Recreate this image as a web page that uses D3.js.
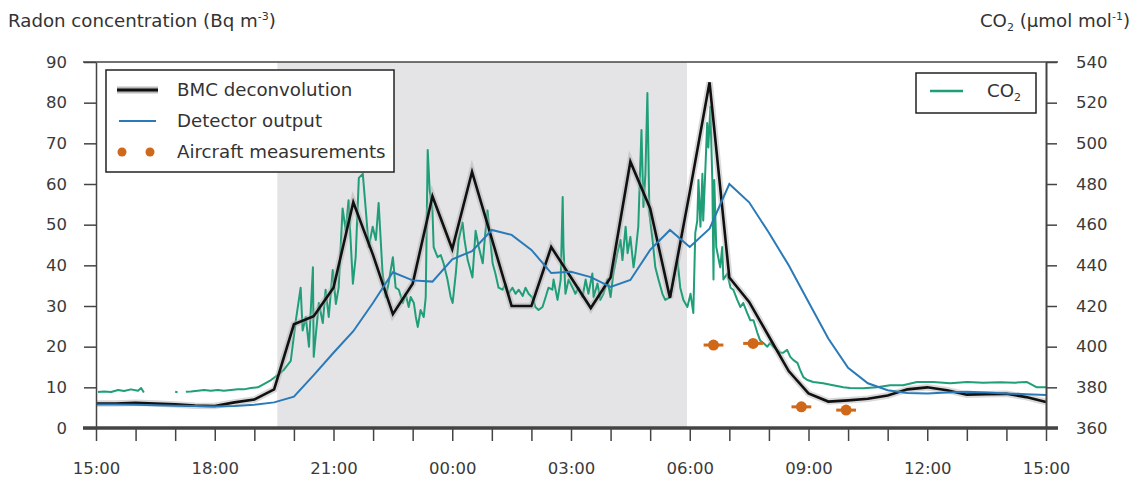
<!DOCTYPE html>
<html lang="en">
<head>
<meta charset="UTF-8">
<title>Radon and CO2</title>
<script src="https://d3js.org/d3.v7.min.js"></script>
<style>
  body { margin: 0; background: #fff; }
  svg { font-family: "DejaVu Sans", sans-serif; }
  .axis text { fill: #3a3a3a; font-size: 16.5px; font-family: "DejaVu Sans", sans-serif; }
  .axis line, .axis path { stroke: #444; }
  .label { fill: #333; font-size: 18.2px; }
</style>
</head>
<body>
<svg width="1138" height="480"></svg>
<script>
// hours after 15:00 on day one
const halfHours = [0, 0.5, 1, 1.5, 2, 2.5, 3, 3.5, 4, 4.5, 5, 5.5, 6, 6.5, 7, 7.5, 8, 8.5, 9, 9.5,
  10, 10.5, 11, 11.5, 12, 12.5, 13, 13.5, 14, 14.5, 15, 15.5, 16, 16.5, 17, 17.5, 18, 18.5, 19, 19.5,
  20, 20.5, 21, 21.5, 22, 22.5, 23, 23.5, 24];

const bmcRadon = [6.0, 6.0, 6.2, 6.0, 5.8, 5.5, 5.4, 6.3, 7.0, 9.5,
  25.5, 27.5, 34.5, 55.5, 42.5, 28.0, 35.5, 57.0, 44.0, 63.0,
  46.5, 30.0, 30.0, 44.5, 37.0, 29.5, 37.0, 65.5, 54.0, 32.0,
  58.0, 85.0, 37.0, 31.0, 22.5, 14.0, 8.5, 6.5, 6.8, 7.2,
  8.0, 9.5, 10.0, 9.3, 8.2, 8.3, 8.4, 7.6, 6.4];

const detectorRadon = [5.8, 5.8, 5.7, 5.6, 5.5, 5.4, 5.3, 5.4, 5.7, 6.3,
  7.7, 13.0, 18.5, 23.8, 30.8, 38.3, 36.3, 36.0, 41.5, 43.5,
  48.7, 47.5, 43.8, 38.1, 38.4, 37.1, 34.7, 36.4, 43.8, 48.7,
  44.5, 49.0, 60.0, 55.5, 48.0, 40.0, 31.0, 22.0, 14.8, 11.0,
  9.3, 8.6, 8.5, 8.7, 8.9, 8.7, 8.5, 8.3, 8.1];

// CO2 record, null marks the data gaps
const co2Hours = [0.05, 0.20, 0.38, 0.56, 0.71, 0.88, 1.06, 1.14, 1.21, 1.30,
  2.00, 2.06, 2.10,
  2.27, 2.40, 2.57, 2.73, 2.90, 3.08, 3.23, 3.41, 3.58, 3.74, 3.91, 4.09, 4.24, 4.42, 4.59, 4.74, 4.92,
  5.05, 5.17, 5.22, 5.30, 5.38, 5.48, 5.50, 5.63, 5.73, 5.80, 5.88, 5.98, 6.06, 6.13, 6.23, 6.31, 6.38,
  6.49, 6.56, 6.64, 6.74, 6.81, 6.89, 6.99, 7.07, 7.14, 7.24, 7.32, 7.39, 7.50, 7.57, 7.65, 7.75, 7.82,
  7.90, 7.95, 8.03, 8.08, 8.13, 8.20, 8.28, 8.33, 8.38, 8.43, 8.50, 8.53, 8.63, 8.71, 8.78, 8.88, 8.96,
  9.01, 9.09, 9.16, 9.26, 9.31, 9.39, 9.46, 9.51, 9.59, 9.67, 9.77, 9.82, 9.89, 9.94, 10.02, 10.09, 10.17,
  10.27, 10.35, 10.42, 10.52, 10.60, 10.68, 10.78, 10.85, 10.93, 11.03, 11.10, 11.18, 11.28, 11.36, 11.43,
  11.53, 11.56, 11.66, 11.74, 11.79, 11.81, 11.86, 11.94, 12.04, 12.11, 12.19, 12.29, 12.37, 12.44, 12.54,
  12.57, 12.67, 12.74, 12.82, 12.92, 13.00, 13.07, 13.17, 13.25, 13.30, 13.38, 13.43, 13.50, 13.58, 13.63,
  13.70, 13.78, 13.83, 13.88, 13.93, 13.98, 14.06, 14.13, 14.21, 14.31, 14.38, 14.51, 14.59, 14.69, 14.76,
  14.84, 14.94, 15.02, 15.09, 15.14, 15.19, 15.22, 15.27, 15.32, 15.34, 15.39, 15.44, 15.47, 15.52, 15.57,
  15.60, 15.62, 15.67, 15.72, 15.77, 15.82, 15.85, 15.95, 16.03, 16.10, 16.20, 16.28, 16.35, 16.45, 16.53,
  16.61, 16.71, 16.78, 16.86, 16.96, 17.03, 17.11, 17.21, 17.29, 17.36, 17.46, 17.54, 17.62, 17.72, 17.79,
  17.87, 17.97, 18.12, 18.37, 18.62, 18.88, 19.05, 19.38, 19.73, 20.06, 20.39, 20.74, 21.15, 21.58, 22.01,
  22.41, 22.84, 23.22, 23.52, 23.77, 24.00];

const co2Values = [377.7, 378.0, 377.7, 378.7, 378.2, 379.0, 378.3, 379.7, 377.5, null,
  377.8, 377.6, null,
  377.8, 377.9, 378.3, 378.7, 378.3, 378.7, 378.3, 378.7, 379.0, 379.0, 379.7, 380.0, 381.6, 383.6, 386.0, 388.5, 393.0,
  413.0, 429.0, 408.0, 414.6, 400.0, 439.0, 395.0, 421.5, 411.6, 428.0, 414.6, 437.7, 421.0, 429.0, 468.0, 457.0, 472.0,
  431.0, 444.0, 483.0, 485.0, 468.7, 449.0, 459.0, 452.5, 470.7, 436.0, 424.4, 431.0, 444.0, 429.0, 428.0, 421.5, 426.0,
  419.5, 424.4, 421.5, 414.6, 409.7, 418.0, 414.6, 424.4, 496.7, 477.0, 467.0, 449.0, 444.0, 445.0, 441.0, 433.0, 424.4,
  421.5, 436.0, 452.5, 461.0, 452.5, 442.6, 437.7, 434.0, 457.0, 449.0, 441.0, 452.5, 467.0, 457.0, 441.0, 436.0, 429.0,
  428.0, 431.0, 426.0, 429.0, 426.0, 428.0, 425.0, 429.0, 426.0, 424.0, 419.5, 418.0, 419.5, 424.4, 429.0,
  428.0, 433.0, 423.0, 433.0, 473.6, 449.0, 426.0, 433.0, 429.0, 426.0, 429.0, 424.4, 433.0, 426.0, 436.0,
  424.4, 431.0, 423.0, 426.0, 433.0, 424.4, 436.0, 446.0, 452.5, 442.6, 459.0, 446.0, 454.0, 439.0, 446.0,
  459.0, 506.6, 468.7, 485.0, 524.8, 465.7, 452.5, 439.0, 433.0, 426.0, 423.0, 424.4, 433.0, 442.6, 429.0,
  423.0, 419.5, 426.0, 416.6, 456.0, 462.0, 482.0, 459.0, 485.0, 462.0, 485.0, 510.0, 498.0, 518.0, 482.0,
  433.0, 482.0, 449.0, 444.0, 439.0, 449.0, 433.0, 436.0, 429.0, 428.0, 423.0, 419.5, 421.5, 416.6, 413.0,
  413.0, 406.7, 403.0, 401.8, 400.0, 401.8, 400.0, 398.4, 397.0, 397.0, 398.4, 395.0, 393.4, 392.0, 388.5,
  385.0, 383.6, 382.6, 382.0, 381.0, 380.0, 379.7, 379.5, 380.0, 381.0, 381.0, 382.6, 382.6, 382.0, 382.6,
  382.2, 382.5, 382.3, 382.6, 380.0, 380.0];

const aircraftHours = [15.60, 16.60, 17.82, 18.95];
const aircraftRadon = [20.4, 20.8, 5.2, 4.4];
const aircraftHalfWidth = 0.25;

const nightStart = 4.58, nightEnd = 14.93;
const radonTicks = [0, 10, 20, 30, 40, 50, 60, 70, 80, 90];
const co2Ticks = [360, 380, 400, 420, 440, 460, 480, 500, 520, 540];

const GREEN = "#1f9e78", BLUE = "#2a7ab8", ORANGE = "#d0681a";

const base = new Date(2000, 0, 1, 15, 0);
const toDate = h => new Date(base.getTime() + h * 3600e3);

const svg = d3.select("svg");
const pLeft = 96, pRight = 1046, pTop = 62, pBottom = 428;

const x = d3.scaleTime().domain([base, toDate(24)]).range([pLeft, pRight]);
const yL = d3.scaleLinear().domain([0, 90]).range([pBottom, pTop]);
const yR = d3.scaleLinear().domain([360, 540]).range([pBottom, pTop]);

// night shading
svg.append("rect")
  .attr("x", x(toDate(nightStart))).attr("y", pTop)
  .attr("width", x(toDate(nightEnd)) - x(toDate(nightStart)))
  .attr("height", pBottom - pTop)
  .attr("fill", "#e4e4e7");

const bmc = halfHours.map((h, i) => ({t: toDate(h), v: bmcRadon[i]}));
const det = halfHours.map((h, i) => ({t: toDate(h), v: detectorRadon[i]}));
const co2 = co2Hours.map((h, i) => ({t: toDate(h), v: co2Values[i]}));

const lineL = d3.line().x(d => x(d.t)).y(d => yL(d.v));
const lineR = d3.line().defined(d => d.v !== null).x(d => x(d.t)).y(d => yR(d.v));

svg.append("path").datum(co2).attr("d", lineR)
  .attr("fill", "none").attr("stroke", GREEN).attr("stroke-width", 2).attr("stroke-linejoin", "round");

svg.append("path").datum(bmc).attr("d", lineL)
  .attr("fill", "none").attr("stroke", "#aaa").attr("stroke-opacity", 0.45).attr("stroke-width", 6.5);
svg.append("path").datum(bmc).attr("d", lineL)
  .attr("fill", "none").attr("stroke", "#111").attr("stroke-width", 2.6);

svg.append("path").datum(det).attr("d", lineL)
  .attr("fill", "none").attr("stroke", BLUE).attr("stroke-width", 2);

// aircraft points with time error bars
const ac = svg.append("g");
aircraftHours.forEach((h, i) => {
  ac.append("line")
    .attr("x1", x(toDate(h - aircraftHalfWidth))).attr("x2", x(toDate(h + aircraftHalfWidth)))
    .attr("y1", yL(aircraftRadon[i])).attr("y2", yL(aircraftRadon[i]))
    .attr("stroke", ORANGE).attr("stroke-width", 3);
  ac.append("circle")
    .attr("cx", x(toDate(h))).attr("cy", yL(aircraftRadon[i])).attr("r", 5.5)
    .attr("fill", ORANGE);
});

// axes
const gl = svg.append("g").attr("class", "axis").attr("transform", `translate(${pLeft},0)`)
  .call(d3.axisLeft(yL).tickValues(radonTicks).tickSize(12).tickSizeOuter(0).tickPadding(17));
gl.select(".domain").attr("stroke-width", 1.5);
gl.selectAll(".tick line").attr("stroke-width", 1.5);

const gr = svg.append("g").attr("class", "axis").attr("transform", `translate(${pRight},0)`)
  .call(d3.axisRight(yR).tickValues(co2Ticks).tickSize(11).tickSizeOuter(0).tickPadding(19));
gr.select(".domain").attr("stroke-width", 2);
gr.selectAll(".tick line").attr("stroke-width", 1.5);

const fmt = d3.timeFormat("%H:%M");
const gb = svg.append("g").attr("class", "axis").attr("transform", `translate(0,${pBottom})`)
  .call(d3.axisBottom(x).ticks(d3.timeHour.every(1)).tickSize(13).tickSizeOuter(0).tickPadding(21)
    .tickFormat(d => d.getHours() % 3 === 0 ? fmt(d) : ""));
gb.select(".domain").remove();
gb.selectAll(".tick line").attr("stroke-width", 1.5);

// frame lines top and bottom
svg.append("line").attr("x1", pLeft - 13).attr("x2", pRight + 12).attr("y1", pTop).attr("y2", pTop)
  .attr("stroke", "#444").attr("stroke-width", 1.5);
svg.append("line").attr("x1", pLeft - 13).attr("x2", pRight + 12).attr("y1", pBottom).attr("y2", pBottom)
  .attr("stroke", "#444").attr("stroke-width", 3.5);

// axis titles
const tl = svg.append("text").attr("class", "label").attr("x", 8).attr("y", 27).attr("font-size", 18.8);
tl.append("tspan").text("Radon concentration (Bq m");
tl.append("tspan").attr("dy", -7).attr("font-size", 11).text("-3");
tl.append("tspan").attr("dy", 7).text(")");

const tr = svg.append("text").attr("class", "label").attr("x", 1130).attr("y", 27).attr("text-anchor", "end");
tr.append("tspan").text("CO");
tr.append("tspan").attr("dy", 4).attr("font-size", 11).text("2");
tr.append("tspan").attr("dy", -4).text(" (µmol mol");
tr.append("tspan").attr("dy", -7).attr("font-size", 11).text("-1");
tr.append("tspan").attr("dy", 7).text(")");

// left legend
const lg = svg.append("g");
lg.append("rect").attr("x", 106).attr("y", 70).attr("width", 288).attr("height", 102)
  .attr("fill", "#fff").attr("stroke", "#222").attr("stroke-width", 1.5);
const legendRows = [90, 121, 152];
lg.append("line").attr("x1", 117).attr("x2", 158).attr("y1", legendRows[0]).attr("y2", legendRows[0])
  .attr("stroke", "#bbb").attr("stroke-width", 7);
lg.append("line").attr("x1", 117).attr("x2", 158).attr("y1", legendRows[0]).attr("y2", legendRows[0])
  .attr("stroke", "#111").attr("stroke-width", 3);
lg.append("line").attr("x1", 119).attr("x2", 156).attr("y1", legendRows[1]).attr("y2", legendRows[1])
  .attr("stroke", BLUE).attr("stroke-width", 2);
[122, 150].forEach(cx => lg.append("circle").attr("cx", cx).attr("cy", legendRows[2]).attr("r", 4.5).attr("fill", ORANGE));
["BMC deconvolution", "Detector output", "Aircraft measurements"].forEach((s, i) =>
  lg.append("text").attr("class", "label").attr("x", 177).attr("y", legendRows[i]).attr("dy", "0.35em")
    .text(s));

// right legend
const rg = svg.append("g");
rg.append("rect").attr("x", 916).attr("y", 73).attr("width", 120).attr("height", 40)
  .attr("fill", "#fff").attr("stroke", "#222").attr("stroke-width", 1.5);
rg.append("line").attr("x1", 930).attr("x2", 963).attr("y1", 91).attr("y2", 91)
  .attr("stroke", GREEN).attr("stroke-width", 2.5);
const rt = rg.append("text").attr("class", "label").attr("x", 987).attr("y", 91).attr("dy", "0.35em");
rt.append("tspan").text("CO");
rt.append("tspan").attr("dy", 4).attr("font-size", 11).text("2");
</script>
</body>
</html>
